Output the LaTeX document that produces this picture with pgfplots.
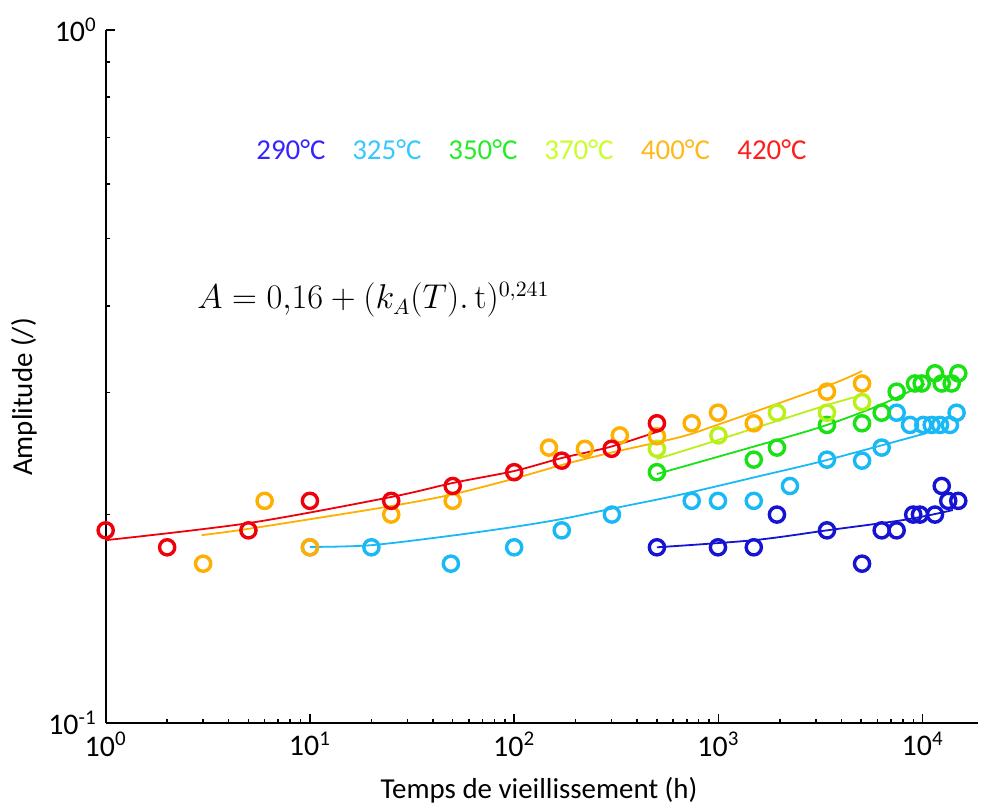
\documentclass[border=0pt]{standalone}
\usepackage{pgfplots}
\pgfplotsset{compat=1.18}
\usepackage[no-math]{fontspec}
\setmainfont{Carlito}
\definecolor{cA}{RGB}{20,20,210}
\definecolor{cB}{RGB}{25,185,245}
\definecolor{cC}{RGB}{25,225,20}
\definecolor{cD}{RGB}{185,240,25}
\definecolor{cE}{RGB}{255,175,0}
\definecolor{cF}{RGB}{240,0,10}
\definecolor{tA}{RGB}{55,35,255}
\definecolor{tB}{RGB}{55,200,255}
\definecolor{tC}{RGB}{40,235,40}
\definecolor{tD}{RGB}{200,255,40}
\definecolor{tE}{RGB}{255,185,30}
\definecolor{tF}{RGB}{255,30,30}
\newcommand{\tl}[1]{10\textsuperscript{#1}}
\begin{document}
\begin{tikzpicture}
\begin{axis}[
  scale only axis, width=436bp, height=346.5bp,
  xmode=log, ymode=log,
  xmin=1, xmax=18600, ymin=0.1, ymax=1,
  axis x line*=bottom, axis y line*=left,
  axis line style={line width=1bp, black},
  tick align=inside,
  major tick length=4.5bp, minor tick length=2.2bp,
  every tick/.style={black, line width=0.8bp},
  xtick={1,10,100,1000,10000},
  xticklabels={\tl{0},\tl{1},\tl{2},\tl{3},\tl{4}},
  ytick={0.1,1},
  yticklabels={\tl{-1},\tl{0}},
  tick label style={font=\fontsize{15}{17}\selectfont},
  xticklabel style={yshift=-1bp},
  yticklabel style={xshift=-1bp},
  xlabel={Temps de vieillissement (h)},
  ylabel={Amplitude (/)},
  label style={font=\fontsize{14.5}{16}\selectfont},
  xlabel style={at={(rel axis cs:0.497,-0.0967)}, anchor=center},
  ylabel style={at={(rel axis cs:-0.0937,0.4704)}, anchor=center},
  clip=false,
  mk/.style={only marks, mark=o, mark size=3.8bp, mark options={line width=1.7bp}},
  ln/.style={no marks, line width=0.9bp, smooth},
]
% fitted lines
\addplot[ln, cA] coordinates {(500,0.1793) (1490,0.1836) (3400,0.1897) (8370,0.1967) (14070,0.2029)};
\addplot[ln, cB] coordinates {(10,0.1795) (19.7,0.1805) (48.3,0.1862) (98.7,0.1918) (171,0.1970) (305,0.2040) (649,0.2135) (1597,0.2272) (3400,0.2396) (10490,0.2621)};
\addplot[ln, cC] coordinates {(500,0.2287) (1935,0.2561) (3400,0.2692) (6180,0.2876) (10250,0.3084)};
\addplot[ln, cD] coordinates {(500,0.2404) (995,0.2561) (1935,0.2728) (3400,0.2876) (5050,0.2973)};
\addplot[ln, cE] coordinates {(2.95,0.1867) (4.92,0.1905) (22,0.2043) (48.3,0.2133) (98.7,0.2250) (171,0.2357) (294,0.2453) (649,0.2586) (985,0.2692) (3400,0.3064) (5050,0.3220)};
\addplot[ln, cF] coordinates {(1,0.1836) (5,0.1943) (25,0.2119) (50,0.2220) (100,0.2310) (171,0.2412) (294,0.2502) (514,0.2638)};
% data points
\addplot[mk, cA] coordinates {(500,0.1793) (995,0.1793) (1490,0.1793) (1935,0.1999) (3400,0.1897) (5050,0.1698) (6300,0.1897) (7460,0.1897) (8990,0.1999) (9700,0.1999) (11490,0.1999) (12400,0.2198) (13340,0.2092) (14940,0.2092)};
\addplot[mk, cB] coordinates {(10,0.1793) (20,0.1793) (49,0.1698) (100,0.1793) (171,0.1897) (301,0.1999) (740,0.2092) (995,0.2092) (1490,0.2092) (2240,0.2198) (3400,0.2399) (5050,0.2391) (6300,0.2497) (7460,0.2804) (8670,0.2692) (10070,0.2692) (11070,0.2692) (12160,0.2692) (13600,0.2692) (14660,0.2804)};
\addplot[mk, cC] coordinates {(500,0.2301) (1490,0.2399) (1935,0.2497) (3400,0.2692) (5050,0.2707) (6300,0.2804) (7460,0.3007) (9170,0.3090) (9890,0.3090) (11490,0.3196) (12400,0.3090) (13870,0.3090) (14940,0.3196)};
\addplot[mk, cD] coordinates {(500,0.2487) (1000,0.2600) (1935,0.2804) (3400,0.2804) (5050,0.2905)};
\addplot[mk, cE] coordinates {(3,0.1698) (6,0.2092) (10,0.1793) (25,0.1999) (50,0.2092) (148,0.2497) (222,0.2487) (329,0.2600) (500,0.2593) (740,0.2707) (995,0.2804) (1490,0.2707) (3400,0.3007) (5050,0.3090)};
\addplot[mk, cF] coordinates {(1,0.1897) (2,0.1793) (5,0.1897) (10,0.2092) (25,0.2092) (50,0.2198) (100,0.2301) (171,0.2391) (300,0.2487) (500,0.2707)};
% legend texts
\begin{scope}[every node/.style={font=\fontsize{14.5}{16}\selectfont, anchor=center}]
\node[text=tA] at (rel axis cs:0.2125,0.8268) {290°C};
\node[text=tB] at (rel axis cs:0.3225,0.8268) {325°C};
\node[text=tC] at (rel axis cs:0.4326,0.8268) {350°C};
\node[text=tD] at (rel axis cs:0.5427,0.8268) {370°C};
\node[text=tE] at (rel axis cs:0.6535,0.8268) {400°C};
\node[text=tF] at (rel axis cs:0.7641,0.8268) {420°C};
\end{scope}
\node[anchor=west, font=\fontsize{16}{19}\selectfont, inner sep=0pt] at (rel axis cs:0.1047,0.6104) {$A = 0{,}16 + (k_A(T).\,\mathrm{t})^{0{,}241}$};
\coordinate (bbsw) at (rel axis cs:-0.1212,-0.1183);
\coordinate (bbne) at (rel axis cs:1.0038,1.0433);
\end{axis}
\pgfresetboundingbox
\useasboundingbox (bbsw) rectangle (bbne);
\end{tikzpicture}
\end{document}
